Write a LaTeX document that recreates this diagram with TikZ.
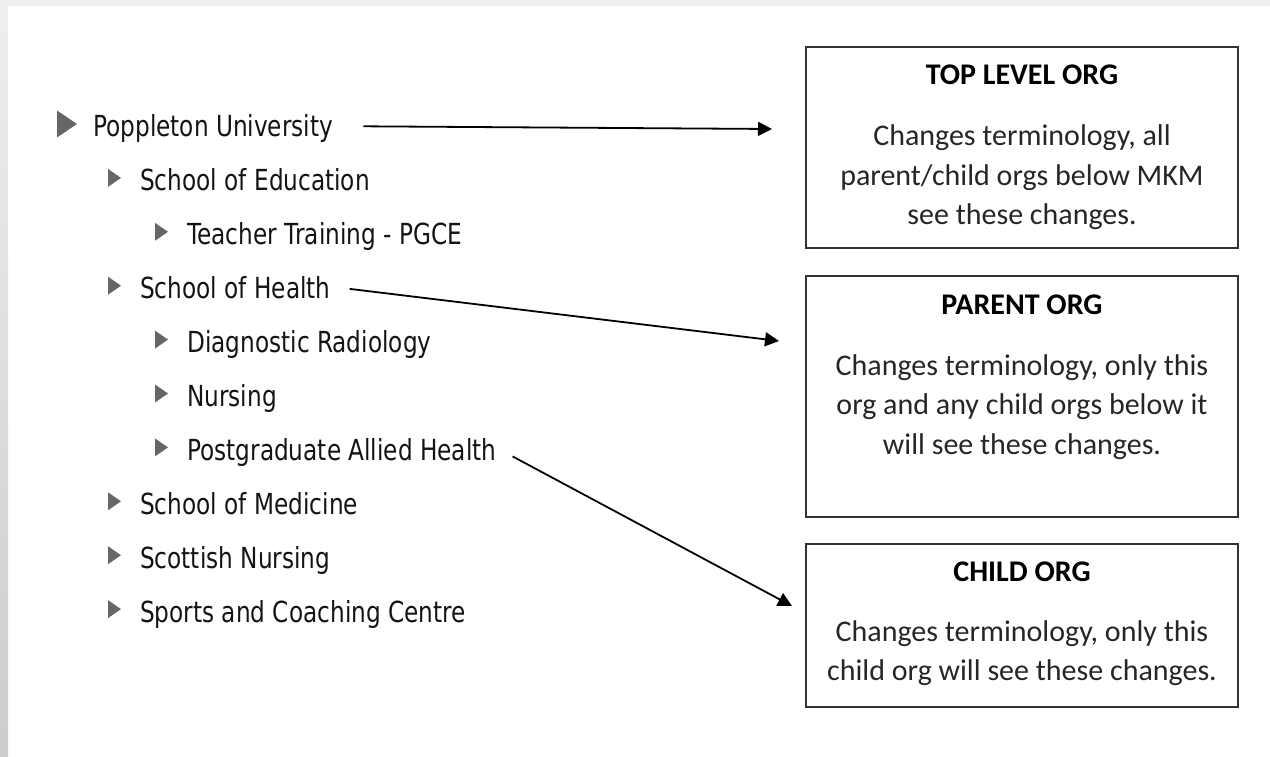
\documentclass[tikz,border=0pt]{standalone}
\usepackage{fontspec}
\setmainfont{Carlito}
\newfontfamily\treefont[FakeStretch=0.8]{DejaVu Sans}
\usetikzlibrary{positioning,arrows.meta}
\definecolor{treetext}{HTML}{141414}
\definecolor{trigray}{HTML}{666666}
\definecolor{boxline}{HTML}{333333}
\definecolor{framegray}{HTML}{EFEFEF}
\definecolor{framedark}{HTML}{CCCCCC}

\begin{document}
\begin{tikzpicture}[x=1pt, y=-1pt, node distance=26pt,
    item/.style={anchor=base west, inner sep=0pt, text=treetext,
                 font=\treefont\fontsize{29}{34}\selectfont},
    orgbox/.style={draw=boxline, line width=2pt, minimum width=432pt, inner sep=0pt},
    orgtitle/.style={anchor=base, inner sep=0pt, font=\bfseries\fontsize{30}{39.5}\selectfont},
    orgtext/.style={anchor=base, inner sep=0pt, align=center, text=black!85,
                    font=\fontsize{30}{39.5}\selectfont},
    link/.style={-{Triangle[length=14pt,width=14pt]}, line width=1.8pt},
    pics/bigtri/.style={code={\fill[trigray] (0,-13.5) -- (20,0) -- (0,13.5) -- cycle;}},
    pics/smalltri/.style={code={\fill[trigray] (0,-9) -- (13,0) -- (0,9) -- cycle;}}]
  \useasboundingbox (0,0) rectangle (1270,757);
  % page frame
  \fill[framegray] (0,0) rectangle (1270,6);
  \shade[top color=framegray, bottom color=framedark] (0,0) rectangle (8,757);

  % org tree
  \node[item] (poppleton) at (93,137) {Poppleton University};
  \node[item] (education) at (140,190.9) {School of Education};
  \node[item] (teacher) at (187,244.8) {Teacher Training - PGCE};
  \node[item] (health) at (140,298.7) {School of Health};
  \node[item] (radiology) at (187,352.6) {Diagnostic Radiology};
  \node[item] (nursing) at (187,406.5) {Nursing};
  \node[item] (allied) at (187,460.4) {Postgraduate Allied Health};
  \node[item] (medicine) at (140,514.3) {School of Medicine};
  \node[item] (scottish) at (140,568.2) {Scottish Nursing};
  \node[item] (sports) at (140,622.1) {Sports and Coaching Centre};

  \pic at ([xshift=-36pt,yshift=13pt]poppleton.base west) {bigtri};
  \foreach \n in {education,teacher,health,radiology,nursing,allied,medicine,scottish,sports}
    \pic at ([xshift=-32pt,yshift=13pt]\n.base west) {smalltri};

  % explanation boxes
  \node[orgbox, minimum height=201pt] (toporg) at (1022,147.5) {};
  \node[orgbox, minimum height=241pt, below=26pt of toporg] (parentorg) {};
  \node[orgbox, minimum height=163pt, below=25pt of parentorg] (childorg) {};

  \node[orgtitle] (toptitle) at ([yshift=-39pt]toporg.north) {TOP LEVEL ORG};
  \node[orgtext] (topbody) at ([yshift=-179pt]toporg.north)
    {Changes terminology, all\\parent/child orgs below MKM\\see these changes.};
  \node[orgtitle] (parenttitle) at ([yshift=-39pt]parentorg.north) {PARENT ORG};
  \node[orgtext] (parentbody) at ([yshift=-179pt]parentorg.north)
    {Changes terminology, only this\\org and any child orgs below it\\will see these changes.};
  \node[orgtitle] (childtitle) at ([yshift=-38pt]childorg.north) {CHILD ORG};
  \node[orgtext] (childbody) at ([yshift=-137.5pt]childorg.north)
    {Changes terminology, only this\\child org will see these changes.};

  % connectors
  \draw[link] ([shift={(30,-2.7)}]poppleton.east) -- ([shift={(-33,-18.5)}]toporg.west);
  \draw[link] ([shift={(19,1)}]health.east) -- ([shift={(-26,-55.5)}]parentorg.west);
  \draw[link] ([shift={(16,4)}]allied.east) -- ([shift={(-13,-19.5)}]childorg.west);
\end{tikzpicture}
\end{document}
